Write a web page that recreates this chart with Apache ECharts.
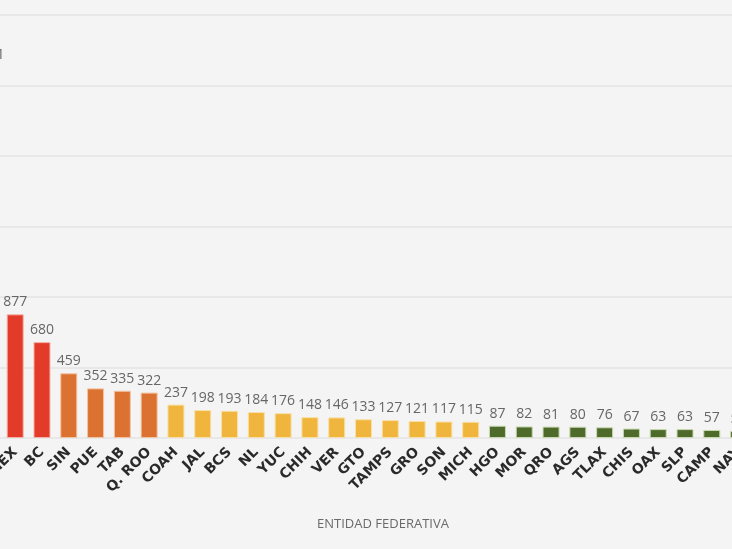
<!DOCTYPE html>
<html><head><meta charset="utf-8">
<script src="https://cdn.jsdelivr.net/npm/echarts@6/dist/echarts.min.js"></script>
<style>html,body{margin:0;padding:0;background:#f4f4f4}#c{width:732px;height:549px}</style>
</head><body><div id="c"></div>
<script>
const categories = ['CDMX','MEX','BC','SIN','PUE','TAB','Q. ROO','COAH','JAL','BCS','NL','YUC','CHIH','VER','GTO','TAMPS','GRO','SON','MICH','HGO','MOR','QRO','AGS','TLAX','CHIS','OAX','SLP','CAMP','NAY'];
const values = [2631,877,680,459,352,335,322,237,198,193,184,176,148,146,133,127,121,117,115,87,82,81,80,76,67,63,63,57,50];
const groupOf = ['r','r','r','o','o','o','o','y','y','y','y','y','y','y','y','y','y','y','y','g','g','g','g','g','g','g','g','g','g'];
const palette = {r:'#e23b2a', o:'#db7232', y:'#f0b53c', g:'#4e6b2c'};
const glow = {r:'#f6b2a8', o:'#f3c4a4', y:'#f8e0a8', g:'#c9d8b0'};

const chart = echarts.init(document.getElementById('c'));
chart.setOption({
  backgroundColor:'#f4f4f4',
  animation:false,
  grid:{left:-25, right:-20, top:15, bottom:111, containLabel:false, outerBoundsMode:'none'},
  xAxis:{type:'category', data:categories,
    axisLine:{show:false}, axisTick:{show:false},
    axisLabel:{rotate:45, interval:0, margin:12, color:'#2a2a2a', fontWeight:'bold', fontSize:14, fontFamily:'"DejaVu Sans", sans-serif'}},
  yAxis:{type:'value', min:0, max:3000, interval:500,
    axisLabel:{show:false}, axisLine:{show:false}, axisTick:{show:false},
    splitLine:{lineStyle:{color:'#e4e4e4', width:1.5}}},
  series:[{type:'bar', barWidth:17,
    data: values.map((v,i)=>({value:v, itemStyle:{color:palette[groupOf[i]], borderColor:glow[groupOf[i]], borderWidth:1}})),
    label:{show:true, position:'top', distance:5, color:'#666', fontSize:14, fontFamily:'"Open Sans", sans-serif'}
  }],
  graphic:[{type:'text', x:383, y:524, style:{text:'ENTIDAD FEDERATIVA', fill:'#6a6a6a', fontSize:13, fontFamily:'"Open Sans", sans-serif', textAlign:'center', textVerticalAlign:'middle'}}]
});
</script></body></html>
